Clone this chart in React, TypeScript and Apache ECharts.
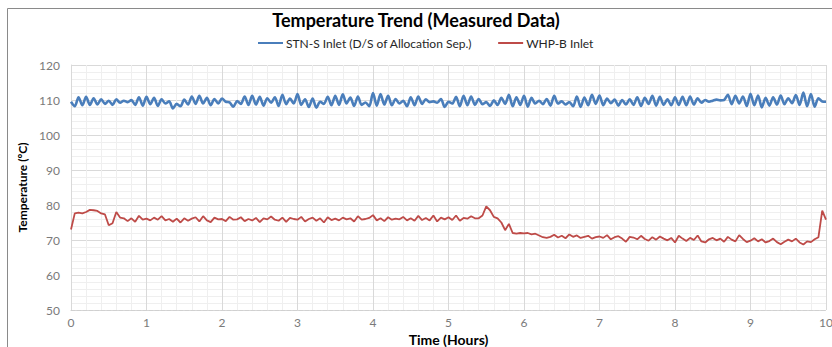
import React, { useEffect, useRef } from "react";
import * as echarts from "echarts";

const title = "Temperature Trend (Measured Data)";
const seriesNames = ["STN-S Inlet (D/S of Allocation Sep.)", "WHP-B Inlet"];
const xAxisName = "Time (Hours)";
const yAxisName = "Temperature (ºC)";
const sampleStepHours = 0.05;

// STN-S inlet, sampled every 0.05 h from 0 to 10 h
const stnInlet = [
  109.5, 108.2, 110.8, 108.5, 110.9, 108.6, 110.5, 108.7, 110.2, 108.9, 109.8, 108.6, 110.2, 109.2, 109.8, 109.4, 110.0, 108.6, 110.8, 108.4,
  110.9, 108.8, 110.6, 108.3, 110.2, 109.0, 109.6, 107.6, 108.9, 108.2, 110.1, 108.7, 111.0, 108.9, 111.2, 109.0, 110.6, 108.5, 110.3, 109.0,
  110.4, 109.5, 109.3, 108.1, 109.7, 108.9, 111.0, 108.6, 111.2, 108.7, 110.9, 108.4, 110.5, 109.2, 110.8, 108.3, 111.5, 108.8, 110.4, 109.0,
  111.7, 108.6, 110.2, 108.0, 110.4, 107.8, 109.5, 108.9, 110.9, 108.5, 111.2, 108.6, 111.6, 109.0, 110.7, 108.3, 111.0, 108.6, 109.3, 108.2,
  112.0, 108.4, 111.7, 108.7, 111.2, 108.5, 110.3, 109.0, 109.8, 108.2, 110.8, 108.5, 111.0, 108.9, 110.2, 109.4, 109.6, 109.2, 110.3, 108.0,
  109.5, 109.0, 110.9, 108.2, 111.2, 108.5, 111.0, 108.6, 110.3, 108.8, 109.4, 108.3, 109.9, 108.6, 110.6, 108.9, 111.5, 108.2, 110.8, 108.6,
  111.2, 108.1, 110.6, 109.0, 109.8, 108.8, 110.3, 108.4, 111.2, 109.0, 109.6, 108.7, 109.4, 108.2, 111.0, 108.0, 110.7, 108.5, 111.5, 108.9,
  111.3, 108.5, 110.4, 109.1, 110.1, 108.4, 110.0, 108.7, 110.2, 108.6, 110.8, 108.3, 110.6, 108.9, 111.2, 108.4, 110.9, 108.6, 110.2, 108.5,
  110.8, 108.6, 110.9, 108.5, 111.0, 108.7, 110.5, 109.2, 110.0, 109.5, 109.8, 110.1, 109.9, 110.0, 111.5, 108.8, 111.2, 109.0, 111.0, 108.3,
  111.8, 108.5, 111.3, 107.9, 110.6, 108.4, 110.8, 108.7, 111.3, 108.8, 110.5, 109.1, 111.4, 108.6, 112.1, 108.2, 111.7, 108.1, 110.5, 109.6,
  109.5,
];

// WHP-B inlet, sampled every 0.05 h from 0 to 10 h
const whpInlet = [
  73.0, 77.6, 77.8, 77.6, 78.0, 78.6, 78.5, 78.3, 77.6, 77.3, 74.2, 74.8, 78.0, 76.4, 76.2, 75.4, 76.2, 75.2, 76.9, 75.8,
  76.1, 75.6, 76.4, 75.8, 76.8, 75.6, 76.0, 75.2, 76.1, 75.0, 76.2, 75.5, 76.1, 76.5, 75.3, 76.8, 75.6, 75.1, 76.4, 75.9,
  76.0, 75.4, 76.6, 75.8, 75.9, 76.5, 75.4, 76.0, 75.6, 76.3, 75.1, 76.2, 75.9, 76.7, 75.8, 75.5, 76.4, 75.2, 76.3, 76.0,
  75.8, 76.6, 75.3, 76.0, 76.4, 75.5, 76.2, 75.0, 76.5, 75.7, 76.1, 75.6, 76.4, 75.9, 76.2, 75.3, 76.8, 75.8, 76.0, 76.3,
  77.1, 75.6, 76.2, 75.4, 76.5, 75.8, 76.1, 75.9, 76.6, 75.6, 76.2, 75.5, 76.9, 75.7, 76.3, 75.6, 77.0, 75.3, 76.4, 75.9,
  76.5, 75.7, 77.0, 75.5, 76.3, 76.1, 76.8, 76.2, 76.2, 77.0, 79.6, 78.5, 76.6, 76.2, 75.0, 72.8, 74.6, 72.0, 71.8, 72.0,
  71.9, 72.0, 71.6, 71.8, 71.3, 70.8, 70.6, 70.9, 71.5, 70.7, 71.2, 70.5, 71.6, 70.9, 71.3, 70.6, 70.9, 71.2, 70.4, 70.8,
  71.0, 70.6, 71.4, 70.2, 70.8, 71.1, 70.4, 69.5, 70.9, 70.7, 70.2, 71.2, 70.3, 69.8, 70.8, 70.1, 71.0, 70.4, 69.9, 70.6,
  69.3, 71.2, 70.4, 69.7, 70.6, 70.0, 71.3, 69.6, 69.3, 70.2, 70.6, 69.9, 70.4, 69.5, 70.9, 70.1, 69.6, 71.4, 70.3, 69.4,
  69.8, 70.5, 69.6, 70.2, 69.3, 69.7, 70.4, 69.4, 68.8, 69.5, 70.1, 69.6, 70.4, 69.3, 68.7, 69.6, 69.4, 70.2, 70.8, 78.4,
  75.8,
];

const toPairs = (vals: number[]) =>
  vals.map((v, i) => [Number((i * sampleStepHours).toFixed(2)), v]);

const FONT = "Lato, 'Open Sans', sans-serif";

export default function App() {
  const ref = useRef<HTMLDivElement>(null);
  useEffect(() => {
    if (!ref.current) return;
    const chart = echarts.init(ref.current, undefined, { renderer: "svg" });
    chart.setOption({
      animation: false,
      backgroundColor: "#ffffff",
      textStyle: { fontFamily: FONT },
      graphic: [
        {
          type: "line",
          shape: { x1: 7.5, y1: 8.5, x2: 832, y2: 8.5 },
          style: { stroke: "#8a8a8a", lineWidth: 1 },
          silent: true,
        },
        {
          type: "line",
          shape: { x1: 7.5, y1: 8.5, x2: 7.5, y2: 347 },
          style: { stroke: "#8a8a8a", lineWidth: 1 },
          silent: true,
        },
      ],
      title: {
        text: title,
        left: "center",
        top: 6,
        textStyle: { fontFamily: FONT, fontSize: 18, fontWeight: "bold", color: "#000000" },
      },
      legend: {
        top: 37,
        left: 258,
        padding: 0,
        icon: "rect",
        itemWidth: 25,
        itemHeight: 2,
        itemGap: 26,
        textStyle: { fontFamily: FONT, fontSize: 12, color: "#262626", padding: [0, 0, 0, -2] },
        data: seriesNames,
      },
      grid: { left: 71, right: 6, top: 65, bottom: 37, containLabel: false, outerBoundsMode: "none" },
      xAxis: {
        type: "value",
        min: 0,
        max: 10,
        interval: 1,
        name: xAxisName,
        nameLocation: "middle",
        nameGap: 21,
        nameTextStyle: { fontFamily: FONT, fontSize: 14, fontWeight: "bold", color: "#000000" },
        axisLine: { show: true, lineStyle: { color: "#d0d0d0", type: "dashed", width: 1 } },
        axisTick: { show: false },
        axisLabel: { color: "#7a7a7a", fontSize: 12, margin: 6, fontFamily: FONT },
        splitLine: { show: true, lineStyle: { color: "#d9d9d9", width: 1 } },
        minorTick: { show: false, splitNumber: 5 },
        minorSplitLine: { show: true, lineStyle: { color: "#efefef", width: 1 } },
      },
      yAxis: {
        type: "value",
        min: 50,
        max: 120,
        interval: 10,
        name: yAxisName,
        nameLocation: "middle",
        nameGap: 42,
        nameTextStyle: { fontFamily: FONT, fontSize: 12, fontWeight: "bold", color: "#000000" },
        axisLine: { show: true, lineStyle: { color: "#d9d9d9", width: 1 } },
        axisTick: { show: false },
        axisLabel: { color: "#7a7a7a", fontSize: 12, margin: 11, fontFamily: FONT },
        splitLine: { show: true, lineStyle: { color: "#d9d9d9", width: 1 } },
        minorTick: { show: false, splitNumber: 5 },
        minorSplitLine: { show: true, lineStyle: { color: "#efefef", width: 1 } },
      },
      series: [
        {
          name: seriesNames[0],
          type: "line",
          data: toPairs(stnInlet),
          showSymbol: false,
          smooth: 0.3,
          lineStyle: { color: "#4a7ebb", width: 2.6 },
          itemStyle: { color: "#4a7ebb" },
        },
        {
          name: seriesNames[1],
          type: "line",
          data: toPairs(whpInlet),
          showSymbol: false,
          lineStyle: { color: "#be4b48", width: 1.8 },
          itemStyle: { color: "#be4b48" },
        },
      ],
    });
    return () => chart.dispose();
  }, []);
  return <div ref={ref} style={{ width: 832, height: 347, position: "absolute", left: 0, top: 0 }} />;
}
